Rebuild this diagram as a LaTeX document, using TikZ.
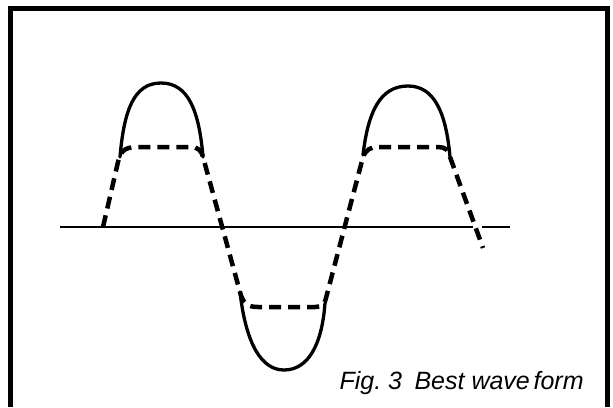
\documentclass[tikz,border=0pt]{standalone}
\usepackage{fontspec}
\setmainfont{Liberation Sans}
\tikzset{
  frame/.style={line width=5pt},
  axis/.style={line width=1.4pt},
  wave/.style={line width=3.3pt, line cap=round, line join=round},
  clipped/.style={line width=4.5pt, dash pattern=on 12pt off 7pt},
}
\begin{document}
\begin{tikzpicture}[x=1pt,y=-1pt]
    \useasboundingbox (0,0) rectangle (613,407);
    % Frame, open at the bottom
    \draw[frame] (10.5,407) -- (10.5,8.5) -- (607,8.5) -- (607,407);
    % Axis
    \draw[axis] (60,227) -- (473,227);
    \draw[axis] (482,227) -- (510,227);
    % Full wave: the two peaks and the trough
    \draw[wave] (120,157) .. controls (124,110) and (134,83) .. (161,83)
        .. controls (188,83) and (199,110) .. (203,157);
    \draw[wave] (240,292) .. controls (246,345) and (262,370) .. (284,370)
        .. controls (308,370) and (322,345) .. (325,303);
    \draw[wave] (363,155) .. controls (368,112) and (380,86) .. (408,86)
        .. controls (434,86) and (446,112) .. (450,157);
    % Clipped wave
    \draw[clipped] (103,227) -- (118,162)
        .. controls (121,150) and (125,148) .. (135,147) -- (190,147)
        .. controls (198,147) and (201,150) .. (203,157) -- (240,292)
        .. controls (243,304) and (248,307) .. (258,307) -- (315,307)
        .. controls (322,307) and (325,304) .. (326,298) -- (363,157)
        .. controls (366,150) and (370,147) .. (378,147) -- (438,147)
        .. controls (445,147) and (449,150) .. (450,157) -- (483,248);
    % Caption
    \node[anchor=base west, font=\itshape\fontsize{25}{29}\selectfont] (caption)
        at (336,389) {Fig.\ 3\hspace{0.5em}Best wave\hspace{0.15em}form};
\end{tikzpicture}
\end{document}
